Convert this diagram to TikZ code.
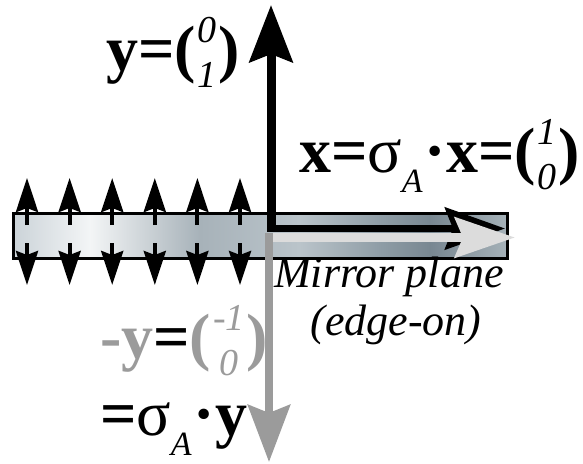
\documentclass[tikz,border=0pt]{standalone}
\usepackage{fontspec}
\setmainfont{Liberation Serif}[
  BoldFont={Liberation Serif Bold},
  ItalicFont={Liberation Serif Italic},
  BoldItalicFont={Liberation Serif Bold Italic}]
\usetikzlibrary{arrows.meta}
\definecolor{MirrorGray}{HTML}{9B9B9B}
\definecolor{PaleGray}{HTML}{DCDCDC}
\definecolor{PlateA}{HTML}{CBD3D8}
\definecolor{PlateB}{HTML}{F3F5F6}
\definecolor{PlateC}{HTML}{A7B2B9}
\definecolor{PlateD}{HTML}{BAC4CA}
\definecolor{PlateE}{HTML}{8F9DA6}
\definecolor{PlateF}{HTML}{788791}
\definecolor{PlateG}{HTML}{A5B1B8}
\pgfdeclarehorizontalshading{plateshade}{100bp}{%
  color(0bp)=(PlateA);
  color(25bp)=(PlateA);
  color(32.8bp)=(PlateB);
  color(43.9bp)=(PlateC);
  color(54bp)=(PlateD);
  color(62.1bp)=(PlateE);
  color(67.2bp)=(PlateF);
  color(75bp)=(PlateG);
  color(100bp)=(PlateG)}
% column vector with small italic entries
\newcommand{\colvec}[2]{(\kern1pt\raisebox{-8.5pt}{\fontsize{19}{22.5}\selectfont\mdseries\itshape
  \vbox{\baselineskip=22.5pt\lineskiplimit=-50pt\halign{\hfil##\hfil\cr#1\cr#2\cr}}}\kern1pt)}
\newcommand{\sigA}{{\mdseries σ}\raisebox{-10pt}{\fontsize{17}{17}\selectfont\mdseries\itshape A}\kern1pt}

\begin{document}
\begin{tikzpicture}[x=0.5pt,y=0.5pt,
  every node/.style={inner sep=0pt,outer sep=0pt},
  biglabel/.style={font=\fontsize{32}{36}\selectfont\bfseries},
  planelabel/.style={font=\fontsize{22}{24}\selectfont\itshape},
  plate/.style={draw=black,line width=1.5pt,shading=plateshade},
  dipole/.style={line width=2pt,-{Stealth[length=17pt,width=11pt,inset=2pt]}},
  yaxis/.style={line width=4.5pt,-{Stealth[length=28.5pt,width=21.5pt,inset=4pt]}},
  xaxis/.style={line width=3.5pt,-{Stealth[length=30pt,width=21pt,inset=4pt]}},
  ximage/.style={PaleGray,line width=4.5pt,-{Stealth[length=30pt,width=20pt,inset=4pt]}},
  yimage/.style={MirrorGray,line width=4pt,-{Stealth[length=28.5pt,width=21pt,inset=4pt]}}
]
\useasboundingbox (0,0) rectangle (583,463);
% mirror plate seen edge-on
\path[plate] (13,205) rectangle (507,250);
% dipoles in the plate
\foreach \i in {0,...,5}{
  \coordinate (ub\i) at (27+42.6*\i,238);
  \coordinate (ut\i) at (27+42.6*\i,285);
  \coordinate (db\i) at (27+42.6*\i,220);
  \coordinate (dt\i) at (27+42.6*\i,178);
  \draw[dipole] (ub\i) -- (ut\i);
  \draw[dipole] (db\i) -- (dt\i);
}
% axes
\coordinate (origin) at (271,232);
\coordinate (ytip) at (271,458);
\coordinate (xstart) at (267,234.5);
\coordinate (xtip) at (505,234.5);
\coordinate (x2start) at (273,225.5);
\coordinate (x2tip) at (515,225.5);
\coordinate (y2start) at (269,230);
\coordinate (y2tip) at (269,1);
\draw[yaxis] (origin) -- (ytip);
\draw[xaxis] (xstart) -- (xtip);
\draw[ximage] (x2start) -- (x2tip);
\draw[yimage] (y2start) -- (y2tip);
% labels
\node[biglabel,anchor=base west] (ylab) at (106,393) {y=\colvec{0}{1}};
\node[biglabel,anchor=base west] (xlab) at (299,291) {x=\sigA·x=\colvec{1}{0}};
\node[planelabel,anchor=base] (mirror) at (389,176) {Mirror plane};
\node[planelabel,anchor=base] (edgeon) at (396,128) {(edge-on)};
\node[biglabel,anchor=base west] (mylab) at (100,105)
  {\textcolor{MirrorGray}{-y}=\textcolor{MirrorGray}{\colvec{-1}{0}}};
\node[biglabel,anchor=base west] (sylab) at (100,28) {=\sigA·y};
\end{tikzpicture}
\end{document}
